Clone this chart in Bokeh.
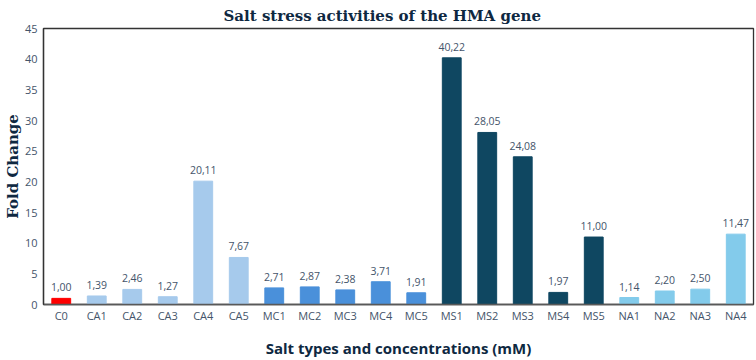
from bokeh.plotting import figure
from bokeh.models import ColumnDataSource, FactorRange, Range1d, FixedTicker
from bokeh.core.properties import value
from bokeh.embed import file_html
from bokeh.resources import INLINE

categories = ["C0", "CA1", "CA2", "CA3", "CA4", "CA5", "MC1", "MC2", "MC3", "MC4", "MC5",
              "MS1", "MS2", "MS3", "MS4", "MS5", "NA1", "NA2", "NA3", "NA4"]
fold_change = [1.00, 1.39, 2.46, 1.27, 20.11, 7.67, 2.71, 2.87, 2.38, 3.71, 1.91,
               40.22, 28.05, 24.08, 1.97, 11.00, 1.14, 2.20, 2.50, 11.47]
groups = ["C", "CA", "CA", "CA", "CA", "CA", "MC", "MC", "MC", "MC", "MC",
          "MS", "MS", "MS", "MS", "MS", "NA", "NA", "NA", "NA"]
group_colors = {"C": "#FF0000", "CA": "#A6CAEC", "MC": "#4A90DA", "MS": "#0F4761", "NA": "#83CBEB"}
y_ticks = [0, 5, 10, 15, 20, 25, 30, 35, 40, 45]

labels = [f"{v:.2f}".replace(".", ",") for v in fold_change]
colors = [group_colors[g] for g in groups]

src = ColumnDataSource(dict(cat=categories, val=fold_change, lab=labels, col=colors))

p = figure(width=756, height=360, output_backend="svg", toolbar_location=None,
           x_range=FactorRange(*categories, range_padding=0), y_range=Range1d(0, 45),
           title="Salt stress activities of the HMA gene",
           min_border_left=0, min_border_right=3, min_border_top=0, min_border_bottom=0)

p.vbar(x="cat", top="val", width=0.53, color="col", source=src)
p.text(x="cat", y="val", text="lab", source=src, text_align="center", text_baseline="bottom",
       y_offset=-7, text_font=value("Open Sans"), text_font_size="10.5px", text_color="#44546A")

p.title.align = "left"
p.title.offset = 180
p.title.text_font = "DejaVu Serif"
p.title.text_font_style = "bold"
p.title.text_font_size = "15px"
p.title.text_color = "#0E2841"
p.title.standoff = 8

p.outline_line_color = "#333333"
p.outline_line_width = 1.3
p.xgrid.grid_line_color = None
p.ygrid.grid_line_color = None

p.yaxis.ticker = FixedTicker(ticks=y_ticks)
p.yaxis.axis_label = "Fold Change"
p.yaxis.axis_label_text_font = "DejaVu Serif"
p.yaxis.axis_label_text_font_style = "bold"
p.yaxis.axis_label_text_font_size = "15px"
p.yaxis.axis_label_text_color = "#0E2841"
p.yaxis.axis_label_standoff = 0
p.yaxis.major_label_text_font = "Open Sans"
p.yaxis.major_label_text_font_size = "11px"
p.yaxis.major_label_text_color = "#44546A"
p.yaxis.major_tick_line_color = None
p.yaxis.major_tick_out = 0
p.yaxis.major_tick_in = 0
p.yaxis.minor_tick_line_color = None
p.yaxis.minor_tick_out = 0
p.yaxis.major_label_standoff = 6
p.yaxis.axis_line_color = "#333333"
p.yaxis.axis_line_width = 1.3

p.xaxis.axis_label = "Salt types and concentrations (mM)"
p.xaxis.axis_label_text_font = "Open Sans"
p.xaxis.axis_label_text_font_style = "bold"
p.xaxis.axis_label_text_font_size = "15px"
p.xaxis.axis_label_text_color = "#0E2841"
p.xaxis.axis_label_standoff = 12
p.xaxis.major_label_text_font = "Open Sans"
p.xaxis.major_label_text_font_size = "11px"
p.xaxis.major_label_text_color = "#44546A"
p.xaxis.major_tick_line_color = None
p.xaxis.major_tick_out = 0
p.xaxis.major_tick_in = 0
p.xaxis.major_label_standoff = 3
p.xaxis.axis_line_color = "#595959"
p.xaxis.axis_line_width = 1.3

open("out.html", "w").write(file_html(p, INLINE))
